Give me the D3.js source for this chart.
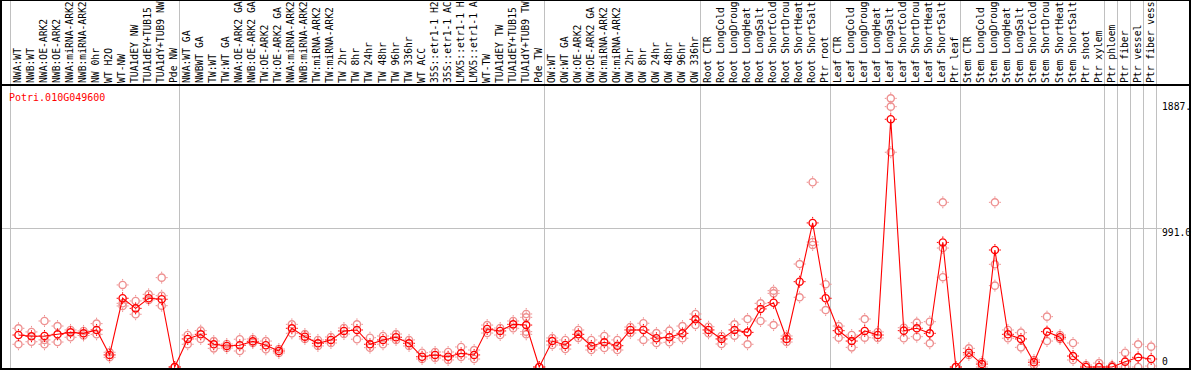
<!DOCTYPE html>
<html>
<head>
<meta charset="utf-8">
<script src="https://cdn.jsdelivr.net/npm/d3@7"></script>
<style>
    body { margin: 0; background: #fff; }
    svg { display: block; }
    text { font-family: "DejaVu Sans Mono", monospace; font-size: 10px; }
</style>
</head>
<body>
<div id="chart"></div>
<script>
// Expression profile of one gene across 88 samples (mean + replicates)

const geneName = "Potri.010G049600";

const sampleLabels = [
    "NWA:WT", "NWB:WT", "NWA:OE-ARK2", "NWB:OE-ARK2", "NWA:miRNA-ARK2", "NWB:miRNA-ARK2",
    "NW 0hr", "WT H2O", "WT-NW", "TUA1dEY NW", "TUA1dEY+TUB15 NW", "TUA1dY+TUB9 NW", "Pde NW",
    "NWA:WT GA", "NWBWT GA", "TW:WT", "TW:WT GA", "NWA:OE-ARK2 GA", "NWB:OE-ARK2 GA",
    "TW:OE-ARK2", "TW:OE-ARK2 GA", "NWA:miRNA-ARK2", "NWB:miRNA-ARK2", "TW:miRNA-ARK2",
    "TW:miRNA-ARK2", "TW 2hr", "TW 8hr", "TW 24hr", "TW 48hr", "TW 96hr", "TW 336hr", "WT ACC",
    "35S::etr1-1 H2O", "35S::etr1-1 ACC", "LMX5::etr1-1 H2O", "LMX5::etr1-1 ACC", "WT-TW",
    "TUA1dEY TW", "TUA1dEY+TUB15 TW", "TUA1dY+TUB9 TW", "Pde TW",
    "OW:WT", "OW:WT GA", "OW:OE-ARK2", "OW:OE-ARK2 GA", "OW:miRNA-ARK2", "OW:miRNA-ARK2",
    "OW 2hr", "OW 8hr", "OW 24hr", "OW 48hr", "OW 96hr", "OW 336hr",
    "Root CTR", "Root LongCold", "Root LongDrought", "Root LongHeat", "Root LongSalt",
    "Root ShortCold", "Root ShortDrought", "Root ShortHeat", "Root ShortSalt", "Ptr root",
    "Leaf CTR", "Leaf LongCold", "Leaf LongDrought", "Leaf LongHeat", "Leaf LongSalt",
    "Leaf ShortCold", "Leaf ShortDrought", "Leaf ShortHeat", "Leaf ShortSalt", "Ptr leaf",
    "Stem CTR", "Stem LongCold", "Stem LongDrought", "Stem LongHeat", "Stem LongSalt",
    "Stem ShortCold", "Stem ShortDrought", "Stem ShortHeat", "Stem ShortSalt", "Ptr shoot",
    "Ptr xylem", "Ptr phloem", "Ptr fiber", "Ptr vessel", "Ptr fiber vessel"
];

const meanValues = [
    228, 219, 221, 233, 247, 240, 264, 86, 490, 418, 490, 483, 0,
    200, 233, 162, 150, 155, 183, 155, 114, 276, 216, 169, 193, 257, 264, 162, 193, 212, 169,
    73, 86, 73, 98, 86, 271, 257, 304, 299, 0,
    185, 157, 233, 150, 176, 152, 264, 264, 205, 212, 240, 340,
    264, 200, 264, 247, 414, 458, 200, 608, 1027, 490,
    259, 185, 257, 228, 1766, 259, 276, 240, 888, 0,
    102, 21, 834, 233, 200, 34, 252, 212, 78, 0, 0,
    0, 38, 69, 57
];

const replicateValues = [
    [276, 162], [250, 180], [328, 162, 193], [292, 178], [264, 212], [257, 225], [309, 233],
    [105, 69], [585, 435, 454], [471, 376], [518, 478], [637, 508, 437], [0, 0],
    [228, 162], [259, 200], [133, 185], [164, 135], [198, 114], [200, 171], [185, 126],
    [128, 100], [304, 240], [235, 200], [193, 150], [214, 171], [278, 235], [304, 198],
    [209, 138], [162, 221], [235, 193], [193, 150], [102, 57], [107, 64], [107, 50],
    [143, 71], [121, 57], [299, 242], [278, 228], [328, 276], [378, 354, 252, 233], [0, 0],
    [207, 157], [193, 128], [264, 207], [193, 121], [221, 135], [193, 121], [285, 242],
    [312, 193], [242, 171], [259, 176], [292, 205], [378, 299],
    [287, 240], [221, 164], [304, 223], [342, 162], [454, 328], [544, 525, 299], [221, 178],
    [734, 497], [1317, 891, 870], [590, 406],
    [292, 209], [228, 140], [342, 209], [250, 207], [1915, 1856, 1531], [280, 205],
    [316, 216], [323, 169], [1174, 848, 640], [0, 0],
    [133, 86], [36, 0], [1174, 732, 580], [264, 205], [245, 140], [50, 14], [359, 185],
    [228, 200], [171, 50], [14, 0], [28, 0],
    [10, 0], [102, 0], [162, 0], [145, 7]
];

// column indices where a gray separator is drawn
const groupBreaks = [0, 13, 41, 53, 63, 73, 84, 85, 86, 87, 88];

const yTickValues = [1887, 991, 0];
const yTickLabels = ["1887.", "991.0", "0"];
const gridValues = [991];

// Layout
const width = 1194;
const height = 370;
const headerBottom = 85;
const plotBottom = 369;
const plotRight = 1190;
const maxLabelChars = 14; // header only has room for 14 characters

const svg = d3.select("#chart")
    .append("svg")
    .attr("width", width)
    .attr("height", height);

// Column scale (boundaries) and value scale
const xScale = d3.scaleLinear()
    .domain([0, sampleLabels.length])
    .range([10, 1155.7]);
const xPoint = i => xScale(i + 0.65);

const yScale = d3.scaleLinear()
    .domain([0, 1887])
    .range([367, 102.3]);

// Horizontal grid line
svg.selectAll(".grid")
    .data(gridValues)
    .enter()
    .append("line")
    .attr("class", "grid")
    .attr("x1", 1)
    .attr("x2", 1162)
    .attr("y1", d => Math.round(yScale(d)) + 0.5)
    .attr("y2", d => Math.round(yScale(d)) + 0.5)
    .attr("stroke", "#c0c0c0")
    .attr("stroke-width", 1);

// Group separators
svg.selectAll(".sep")
    .data(groupBreaks)
    .enter()
    .append("line")
    .attr("class", "sep")
    .attr("x1", d => Math.round(xScale(d)) + 0.5)
    .attr("x2", d => Math.round(xScale(d)) + 0.5)
    .attr("y1", 0)
    .attr("y2", plotBottom)
    .attr("stroke", "#c0c0c0")
    .attr("stroke-width", 1);

// Sample labels, rotated (cut to what fits in the header)
svg.append("g")
    .selectAll("text")
    .data(sampleLabels)
    .enter()
    .append("text")
    .attr("transform", (d, i) => `translate(${xPoint(i) + 2.5},83) rotate(-90)`)
    .attr("text-anchor", "start")
    .style("font-size", "9.7px")
    .attr("fill", "#000")
    .text(d => d.slice(0, maxLabelChars).trim());

// Marker: ring with four small ticks
function addMarker(sel, color) {
    sel.append("circle")
        .attr("r", 3.6)
        .attr("fill", "none")
        .attr("stroke", color)
        .attr("stroke-width", 1.4);
    sel.append("path")
        .attr("d", "M0,-6V-4.5M0,4.5V6M-6,0H-4.5M4.5,0H6")
        .attr("stroke", color)
        .attr("stroke-width", 1);
}

// Replicates
const repData = [];
replicateValues.forEach((reps, i) => reps.forEach(v => repData.push({ i: i, v: v })));

const reps = svg.append("g")
    .selectAll("g")
    .data(repData)
    .enter()
    .append("g")
    .attr("transform", d => `translate(${xPoint(d.i)},${yScale(d.v)})`);
addMarker(reps, "#ee9090");

// Mean line
const line = d3.line()
    .x((d, i) => xPoint(i))
    .y(d => yScale(d));

svg.append("path")
    .datum(meanValues)
    .attr("fill", "none")
    .attr("stroke", "#ff0000")
    .attr("stroke-width", 1.1)
    .attr("d", line);

const means = svg.append("g")
    .selectAll("g")
    .data(meanValues)
    .enter()
    .append("g")
    .attr("transform", (d, i) => `translate(${xPoint(i)},${yScale(d)})`);
addMarker(means, "#ff0000");

// Gene name
svg.append("text")
    .attr("x", 9)
    .attr("y", 101)
    .attr("fill", "#ff0000")
    .text(geneName);

// Right value labels
svg.selectAll(".ytick")
    .data(yTickValues)
    .enter()
    .append("text")
    .attr("class", "ytick")
    .attr("x", 1162)
    .attr("y", (d, i) => d === 0 ? yScale(d) - 2 : yScale(d) + 8)
    .style("font-size", "9.7px")
    .attr("fill", "#000")
    .text((d, i) => yTickLabels[i]);

// Borders
const border = svg.append("g")
    .attr("stroke", "#000")
    .attr("stroke-width", 2)
    .attr("fill", "none");
border.append("line").attr("x1", 0).attr("x2", plotRight).attr("y1", headerBottom).attr("y2", headerBottom);
border.append("line").attr("x1", 0).attr("x2", plotRight).attr("y1", plotBottom).attr("y2", plotBottom);
border.append("line").attr("x1", 0).attr("x2", plotRight).attr("y1", 0).attr("y2", 0);
border.append("line").attr("x1", 1).attr("x2", 1).attr("y1", 0).attr("y2", height);
border.append("line").attr("x1", plotRight).attr("x2", plotRight).attr("y1", 0).attr("y2", height);
</script>
</body>
</html>
